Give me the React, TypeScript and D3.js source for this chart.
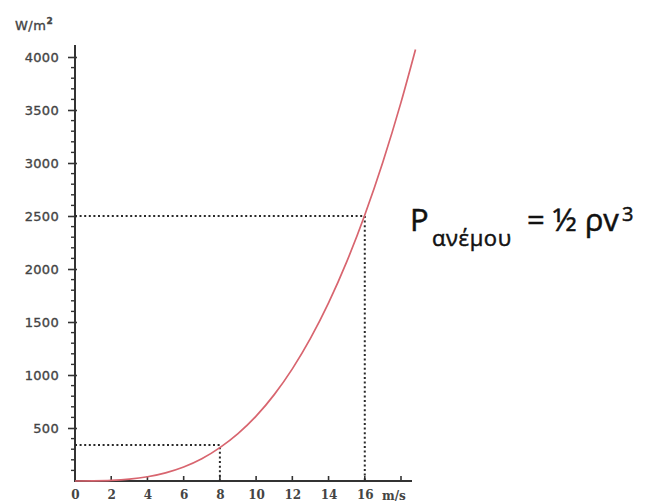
import React, { useEffect, useRef } from 'react'
import * as d3 from 'd3'

// wind speed (m/s) and power density (W/m²)
const speeds = [0, 1, 2, 3, 4, 5, 6, 7, 8, 9, 10, 11, 12, 13, 14, 15, 16, 17, 18, 18.8]
const power = [0, 1, 5, 17, 40, 77, 132, 210, 315, 447, 612, 815, 1058, 1345, 1680, 2067, 2510, 3010, 3572, 4070]

const yMajor = [500, 1000, 1500, 2000, 2500, 3000, 3500, 4000]
const xTicks = [0, 2, 4, 6, 8, 10, 12, 14, 16, 18]
const xLabels = ['0', '2', '4', '6', '8', '10', '12', '14', '16', '']

// the two read-off guides: [speed, power]
const guides = [[8, 340], [16, 2500]]

const App = () => {
  const ref = useRef(null)

  useEffect(() => {
    const svg = d3.select(ref.current)
    svg.selectAll('*').remove()

    const x = d3.scaleLinear().domain([0, 18]).range([75, 401])
    const y = d3.scaleLinear().domain([0, 4000]).range([481, 57])

    const sansFont = '"DejaVu Sans", Verdana, sans-serif'
    const serifFont = '"DejaVu Serif", Georgia, serif'
    const ink = '#333'
    const textInk = '#444'

    // y axis
    const yAxis = d3.axisLeft(y)
      .tickValues(yMajor)
      .tickFormat(d3.format('d'))
      .tickSize(9)
      .tickPadding(9)
    const gy = svg.append('g').attr('transform', 'translate(77,0)').call(yAxis)
    gy.select('.domain').remove()
    gy.selectAll('.tick line').attr('stroke', ink).attr('stroke-width', 1.6)
    gy.selectAll('.tick text')
      .attr('fill', textInk)
      .attr('stroke', textInk)
      .attr('stroke-width', 0.35)
      .style('font-family', sansFont)
      .style('font-size', '13px')
      .style('letter-spacing', '0.3px')

    // minor ticks every 100
    const minor = d3.range(100, 4100, 100).filter(v => v % 500 !== 0)
    svg.append('g')
      .selectAll('line')
      .data(minor)
      .enter()
      .append('line')
      .attr('x1', 71)
      .attr('x2', 76)
      .attr('y1', d => y(d))
      .attr('y2', d => y(d))
      .attr('stroke', ink)
      .attr('stroke-width', 1.4)

    svg.append('line')
      .attr('x1', 75).attr('x2', 75)
      .attr('y1', 45).attr('y2', 482)
      .attr('stroke', ink)
      .attr('stroke-width', 2)

    // x axis
    const xAxis = d3.axisBottom(x)
      .tickValues(xTicks)
      .tickFormat((d, i) => xLabels[i])
      .tickSize(0)
      .tickPadding(9)
    const gx = svg.append('g').attr('transform', 'translate(0,481)').call(xAxis)
    gx.select('.domain').remove()
    gx.selectAll('.tick text')
      .attr('fill', textInk)
      .style('font-family', serifFont)
      .style('font-size', '12px')
      .style('font-weight', 'bold')

    svg.append('g')
      .selectAll('line')
      .data(xTicks.slice(1))
      .enter()
      .append('line')
      .attr('x1', d => x(d))
      .attr('x2', d => x(d))
      .attr('y1', 476)
      .attr('y2', 481)
      .attr('stroke', ink)
      .attr('stroke-width', 1.6)

    svg.append('line')
      .attr('x1', 74).attr('x2', 412)
      .attr('y1', 481).attr('y2', 481)
      .attr('stroke', ink)
      .attr('stroke-width', 2)

    svg.append('text')
      .attr('x', 382)
      .attr('y', 500)
      .attr('fill', textInk)
      .style('font-family', serifFont)
      .style('font-size', '12px')
      .style('font-weight', 'bold')
      .text('m/s')

    // unit label
    const unit = svg.append('text')
      .attr('x', 15)
      .attr('y', 30)
      .attr('fill', textInk)
      .attr('stroke', textInk)
      .attr('stroke-width', 0.35)
      .style('font-family', sansFont)
      .style('font-size', '13px')
      .style('letter-spacing', '0.5px')
    unit.append('tspan').text('W/m')
    unit.append('tspan').attr('dy', -6).style('font-size', '9px').style('font-weight', 'bold').text('2')

    // dashed guide lines
    guides.forEach(([v, p]) => {
      svg.append('path')
        .attr('d', `M${x(0)},${y(p)}H${x(v)}V${y(0)}`)
        .attr('fill', 'none')
        .attr('stroke', '#2a2a2a')
        .attr('stroke-width', 2)
        .attr('stroke-dasharray', '2,2.6')
    })

    // curve
    const line = d3.line()
      .x(d => x(d[0]))
      .y(d => y(d[1]))
      .curve(d3.curveMonotoneX)
    svg.append('path')
      .datum(speeds.map((s, i) => [s, power[i]]))
      .attr('d', line)
      .attr('fill', 'none')
      .attr('stroke', '#d8656f')
      .attr('stroke-width', 1.7)

    // formula
    const formulaFont = '"Open Sans", "Noto Sans", sans-serif'
    const f = svg.append('text')
      .attr('fill', '#111')
      .attr('stroke', '#111')
      .attr('stroke-width', 0.5)
      .style('font-family', formulaFont)
    f.append('tspan').attr('x', 410).attr('y', 231).style('font-size', '31px').text('P')
    f.append('tspan').attr('x', 432).attr('y', 246).style('font-size', '22px').style('letter-spacing', '0.6px').text('ανέμου')
    f.append('tspan').attr('x', 527).attr('y', 231).style('font-size', '31px').text('= ½ ρv')
    f.append('tspan').attr('x', 622).attr('y', 221).style('font-size', '20px').text('3')
  }, [])

  return (
    <svg ref={ref} width={656} height={504} style={{ display: 'block', position: 'absolute', left: 0, top: 0 }} />
  )
}

export default App
